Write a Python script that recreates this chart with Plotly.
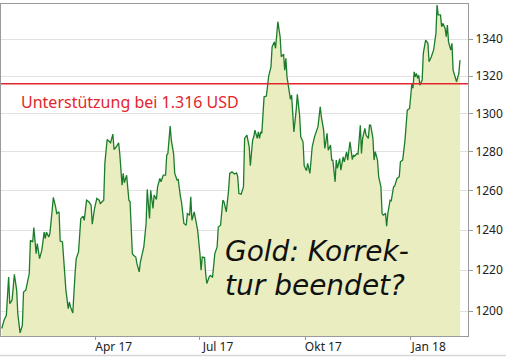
import plotly.graph_objects as go

dates = [
"2017-01-09","2017-01-11","2017-01-13","2017-01-15","2017-01-16","2017-01-18","2017-01-20","2017-01-22","2017-01-23","2017-01-25",
"2017-01-27","2017-01-28","2017-01-30","2017-02-02","2017-02-03","2017-02-05","2017-02-06","2017-02-08","2017-02-09","2017-02-11",
"2017-02-13","2017-02-15","2017-02-16","2017-02-17","2017-02-19","2017-02-20","2017-02-22","2017-02-23","2017-02-25","2017-02-26",
"2017-02-28","2017-03-01","2017-03-03","2017-03-04","2017-03-06","2017-03-08","2017-03-09","2017-03-10","2017-03-12","2017-03-14",
"2017-03-15","2017-03-17","2017-03-19","2017-03-21","2017-03-22","2017-03-24","2017-03-26","2017-03-28","2017-03-29","2017-03-31",
"2017-04-02","2017-04-04","2017-04-05","2017-04-08","2017-04-09","2017-04-11","2017-04-12","2017-04-14","2017-04-16","2017-04-17",
"2017-04-19","2017-04-21","2017-04-22","2017-04-24","2017-04-25","2017-04-26","2017-04-28","2017-04-30","2017-05-01","2017-05-03",
"2017-05-04","2017-05-06","2017-05-07","2017-05-09","2017-05-10","2017-05-12","2017-05-13","2017-05-15","2017-05-16","2017-05-18",
"2017-05-19","2017-05-21","2017-05-22","2017-05-24","2017-05-25","2017-05-27","2017-05-28","2017-05-30","2017-06-01","2017-06-02",
"2017-06-03","2017-06-05","2017-06-06","2017-06-08","2017-06-09","2017-06-11","2017-06-12","2017-06-14","2017-06-15","2017-06-17",
"2017-06-19","2017-06-20","2017-06-22","2017-06-23","2017-06-24","2017-06-26","2017-06-28","2017-06-29","2017-07-01","2017-07-02",
"2017-07-03","2017-07-05","2017-07-06","2017-07-07","2017-07-09","2017-07-10","2017-07-12","2017-07-14","2017-07-16","2017-07-17",
"2017-07-19","2017-07-21","2017-07-22","2017-07-24","2017-07-26","2017-07-27","2017-07-29","2017-07-31","2017-08-02","2017-08-03",
"2017-08-04","2017-08-06","2017-08-08","2017-08-09","2017-08-11","2017-08-13","2017-08-14","2017-08-16","2017-08-17","2017-08-18",
"2017-08-20","2017-08-21","2017-08-22","2017-08-23","2017-08-24","2017-08-26","2017-08-28","2017-08-30","2017-09-01","2017-09-02",
"2017-09-04","2017-09-05","2017-09-07","2017-09-09","2017-09-10","2017-09-12","2017-09-13","2017-09-14","2017-09-15","2017-09-17",
"2017-09-18","2017-09-19","2017-09-20","2017-09-21","2017-09-23","2017-09-24","2017-09-26","2017-09-27","2017-09-29","2017-09-30",
"2017-10-02","2017-10-03","2017-10-05","2017-10-06","2017-10-07","2017-10-09","2017-10-11","2017-10-12","2017-10-14","2017-10-15",
"2017-10-17","2017-10-18","2017-10-20","2017-10-21","2017-10-23","2017-10-24","2017-10-25","2017-10-27","2017-10-28","2017-10-29",
"2017-10-31","2017-11-01","2017-11-03","2017-11-04","2017-11-06","2017-11-07","2017-11-08","2017-11-09","2017-11-11","2017-11-12",
"2017-11-13","2017-11-15","2017-11-16","2017-11-18","2017-11-19","2017-11-20","2017-11-22","2017-11-23","2017-11-25","2017-11-26",
"2017-11-27","2017-11-29","2017-11-30","2017-12-01","2017-12-03","2017-12-04","2017-12-06","2017-12-07","2017-12-08","2017-12-10",
"2017-12-11","2017-12-12","2017-12-14","2017-12-15","2017-12-17","2017-12-18","2017-12-20","2017-12-22","2017-12-23","2017-12-25",
"2017-12-27","2017-12-29","2017-12-31","2018-01-02","2018-01-03","2018-01-04","2018-01-05","2018-01-06","2018-01-07","2018-01-08",
"2018-01-09","2018-01-11","2018-01-12","2018-01-14","2018-01-16","2018-01-17","2018-01-19","2018-01-21","2018-01-23","2018-01-24",
"2018-01-25","2018-01-27","2018-01-28","2018-01-29","2018-01-31","2018-02-01","2018-02-02","2018-02-03","2018-02-05","2018-02-06",
"2018-02-07","2018-02-09","2018-02-10","2018-02-12","2018-02-13"]

gold_usd = [
1191.5,1195.5,1197.9,1216.7,1203.6,1205.3,1218.0,1210.2,1198.7,1189.4,
1193.1,1209.3,1210.2,1218.4,1235.0,1234.1,1241.3,1228.3,1233.3,1225.8,
1230.0,1239.1,1235.8,1239.1,1236.6,1238.3,1250.1,1256.6,1251.8,1248.4,
1249.3,1234.6,1234.1,1226.6,1210.2,1201.2,1204.4,1202.0,1199.0,1218.4,
1225.8,1229.1,1245.9,1247.1,1245.0,1255.2,1254.4,1252.7,1243.0,1251.0,
1256.1,1255.2,1253.5,1255.2,1274.1,1286.5,1285.8,1284.8,1289.3,1281.3,
1282.7,1284.8,1279.2,1262.9,1268.9,1264.1,1268.0,1255.2,1254.4,1228.3,
1227.5,1226.6,1223.3,1219.2,1224.1,1229.1,1231.6,1243.4,1260.7,1245.9,
1260.3,1251.0,1257.8,1255.6,1262.0,1266.3,1264.6,1268.0,1268.0,1278.4,
1279.2,1293.5,1286.2,1279.2,1268.9,1265.5,1265.8,1256.9,1253.9,1243.4,
1242.5,1248.4,1247.6,1256.9,1245.0,1249.3,1244.2,1240.0,1228.3,1220.0,
1226.6,1226.3,1218.4,1213.5,1216.7,1217.5,1216.7,1228.3,1231.6,1241.6,
1242.5,1255.2,1254.4,1249.3,1260.3,1268.9,1269.7,1268.6,1269.2,1267.2,
1258.6,1258.3,1262.0,1287.1,1288.8,1282.7,1272.9,1286.2,1287.9,1291.4,
1287.1,1290.5,1287.1,1290.5,1289.7,1309.0,1309.4,1320.0,1325.0,1335.8,
1338.5,1335.0,1349.5,1341.3,1330.4,1331.9,1323.2,1329.6,1319.6,1311.6,
1307.6,1309.9,1299.3,1290.5,1301.9,1310.3,1299.3,1287.9,1285.3,1272.9,
1270.3,1274.1,1268.9,1274.1,1282.7,1287.9,1292.3,1293.1,1303.7,1298.4,
1291.4,1281.8,1289.7,1280.9,1283.6,1275.8,1275.8,1264.6,1275.8,1271.5,
1276.6,1270.6,1277.5,1274.9,1280.1,1275.8,1280.9,1285.3,1276.1,1278.4,
1277.8,1279.2,1278.9,1294.0,1279.2,1287.1,1292.3,1288.8,1287.1,1294.0,
1294.0,1287.1,1275.8,1280.1,1275.8,1267.2,1262.0,1248.4,1247.6,1248.4,
1242.0,1248.4,1255.2,1254.9,1262.0,1262.4,1266.3,1267.2,1274.9,1275.8,
1286.2,1301.9,1302.8,1316.1,1313.5,1322.3,1319.6,1321.5,1318.8,1320.5,
1315.2,1317.9,1332.3,1339.5,1337.7,1327.7,1330.4,1334.1,1343.1,1358.6,
1353.2,1353.2,1346.7,1348.6,1345.9,1341.3,1347.7,1338.5,1334.1,1337.7,
1323.2,1319.6,1317.0,1321.5,1328.6]

support_level = 1316
support_label = "Unterstützung bei 1.316 USD"
note_lines = ["Gold: Korrek-", "tur beendet?"]

y_ticks = [1200, 1220, 1240, 1260, 1280, 1300, 1320, 1340]
x_tickvals = ["2017-04-01", "2017-07-01", "2017-10-01", "2018-01-01"]
x_ticktext = ["Apr 17", "Jul 17", "Okt 17", "Jan 18"]

fig = go.Figure()
fig.add_trace(go.Scatter(
    x=dates, y=gold_usd, mode="lines", fill="tozeroy",
    fillcolor="#e9edc0", line=dict(color="#1b7d2c", width=1.3),
    hoverinfo="skip", showlegend=False))

fig.add_shape(type="line", xref="paper", x0=0, x1=1, yref="y",
              y0=support_level, y1=support_level,
              line=dict(color="#e3262c", width=1.5))
# light frame line at bottom of the picture
fig.add_shape(type="line", xref="paper", x0=-0.003, x1=1.085, yref="paper",
              y0=-0.0587, y1=-0.0587, line=dict(color="#d6d6d6", width=1.5))

fig.add_annotation(text=support_label, xref="paper", yref="paper",
                   x=0.039, y=0.706, xanchor="left", yanchor="middle",
                   showarrow=False,
                   font=dict(family="Noto Sans", size=16, color="#e3262c"))
fig.add_annotation(text=note_lines[0], xref="paper", yref="paper",
                   x=0.475, y=0.256, xanchor="left", yanchor="middle",
                   showarrow=False,
                   font=dict(family="DejaVu Sans", size=28, color="#111111",
                             style="italic"))
fig.add_annotation(text=note_lines[1], xref="paper", yref="paper",
                   x=0.475, y=0.151, xanchor="left", yanchor="middle",
                   showarrow=False,
                   font=dict(family="DejaVu Sans", size=28, color="#111111",
                             style="italic"))

fig.update_layout(
    width=506, height=357,
    margin=dict(l=1, r=38, t=4, b=21),
    paper_bgcolor="white", plot_bgcolor="white",
    font=dict(family="Noto Sans", size=12, color="#222222"),
    xaxis=dict(type="date", range=["2017-01-08 08:00", "2018-02-20 00:00"],
               tickvals=x_tickvals, ticktext=x_ticktext,
               ticks="outside", ticklen=3, tickcolor="#9a9a9a",
               ticklabelshift=18, ticklabelstandoff=-3, showgrid=False,
               showline=True, linecolor="#9a9a9a", linewidth=1, mirror=True,
               zeroline=False),
    yaxis=dict(type="log", side="right", range=[3.07478, 3.13329],
               tickvals=y_ticks, ticktext=[str(v) for v in y_ticks],
               ticks="outside", ticklen=4, tickcolor="#9a9a9a",
               showgrid=True, gridcolor="#e2e2e2", gridwidth=1,
               showline=True, linecolor="#9a9a9a", linewidth=1, mirror=True,
               zeroline=False),
)

fig.write_html("out.html", config={"displayModeBar": False},
               post_script="document.body.style.margin='0px';")
